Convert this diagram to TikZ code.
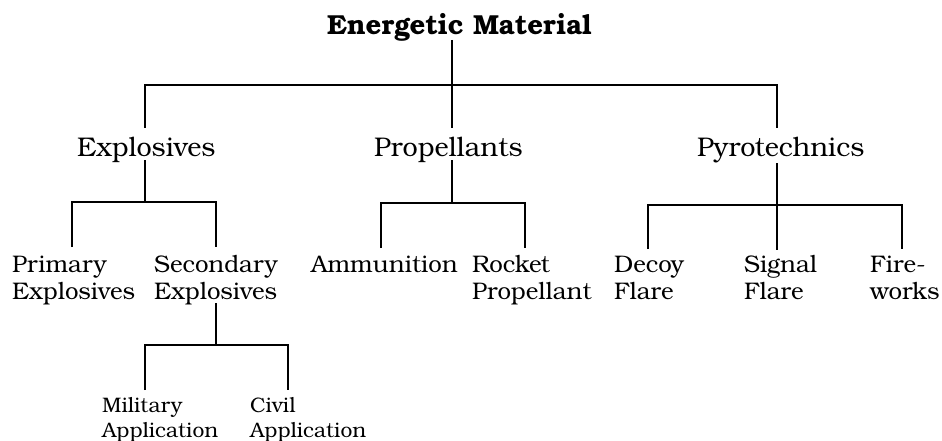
\documentclass[tikz,border=0pt]{standalone}
\usepackage{fontspec}
\setmainfont{texgyrebonum-regular.otf}[BoldFont=texgyrebonum-bold.otf]
\begin{document}
\begin{tikzpicture}[x=1pt,y=-1pt,
  lbl/.style={inner sep=0pt,anchor=base west,align=left},
  lvl1/.style={lbl,font=\fontsize{27.5}{30}\selectfont\bfseries},
  lvl2/.style={lbl,font=\fontsize{27}{30}\selectfont},
  lvl3/.style={lbl,font=\fontsize{24}{27}\selectfont},
  lvl4/.style={lbl,font=\fontsize{21}{25}\selectfont},
  conn/.style={line width=1.4pt}]
\fill[white] (0,0) rectangle (942,441);
\useasboundingbox (0,0) rectangle (942,441);
% texts (base anchor = baseline of last line)
\node[lvl1] (root) at (327,35) {Energetic Material};
\node[lvl2] (expl) at (77,157) {Explosives};
\node[lvl2] (prop) at (374,157) {Propellants};
\node[lvl2] (pyro) at (697,157) {Pyrotechnics};
\node[lvl3] (prim) at (12,299) {Primary\\Explosives};
\node[lvl3] (seco) at (154,299) {Secondary\\Explosives};
\node[lvl3] (ammu) at (311,272) {Ammunition};
\node[lvl3] (rock) at (472,299) {Rocket\\Propellant};
\node[lvl3] (deco) at (614,299) {Decoy\\Flare};
\node[lvl3] (sign) at (744,299) {Signal\\Flare};
\node[lvl3] (fire) at (870,299) {Fire-\\works};
\node[lvl4] (mili) at (102,437) {Military\\Application};
\node[lvl4] (civi) at (250,437) {Civil\\Application};
% connector points
\coordinate (rootb) at (452,40);
\coordinate (bus0) at (452,85);
\coordinate (explt) at (145,128);
\coordinate (propt) at (452,128);
\coordinate (pyrot) at (777,128);
\coordinate (explb) at (145,160);
\coordinate (propb) at (452,160);
\coordinate (pyrob) at (777,163);
\coordinate (bus1) at (145,202);
\coordinate (bus2) at (452,203);
\coordinate (bus3) at (777,205);
\coordinate (primt) at (72,247);
\coordinate (secot) at (216,247);
\coordinate (ammut) at (381,248);
\coordinate (rockt) at (525,248);
\coordinate (decot) at (648,249);
\coordinate (signt) at (777,250);
\coordinate (firet) at (902,249);
\coordinate (secob) at (216,303);
\coordinate (bus4) at (216,345);
\coordinate (milit) at (145,390);
\coordinate (civit) at (288,390);
% connectors
\draw[conn] (rootb) -- (bus0);
\draw[conn] (explt) |- (bus0) -| (pyrot);
\draw[conn] (bus0) -- (propt);
\draw[conn] (explb) -- (bus1);
\draw[conn] (primt) |- (bus1) -| (secot);
\draw[conn] (propb) -- (bus2);
\draw[conn] (ammut) |- (bus2) -| (rockt);
\draw[conn] (pyrob) -- (signt);
\draw[conn] (decot) |- (bus3) -| (firet);
\draw[conn] (secob) -- (bus4);
\draw[conn] (milit) |- (bus4) -| (civit);
\end{tikzpicture}
\end{document}
